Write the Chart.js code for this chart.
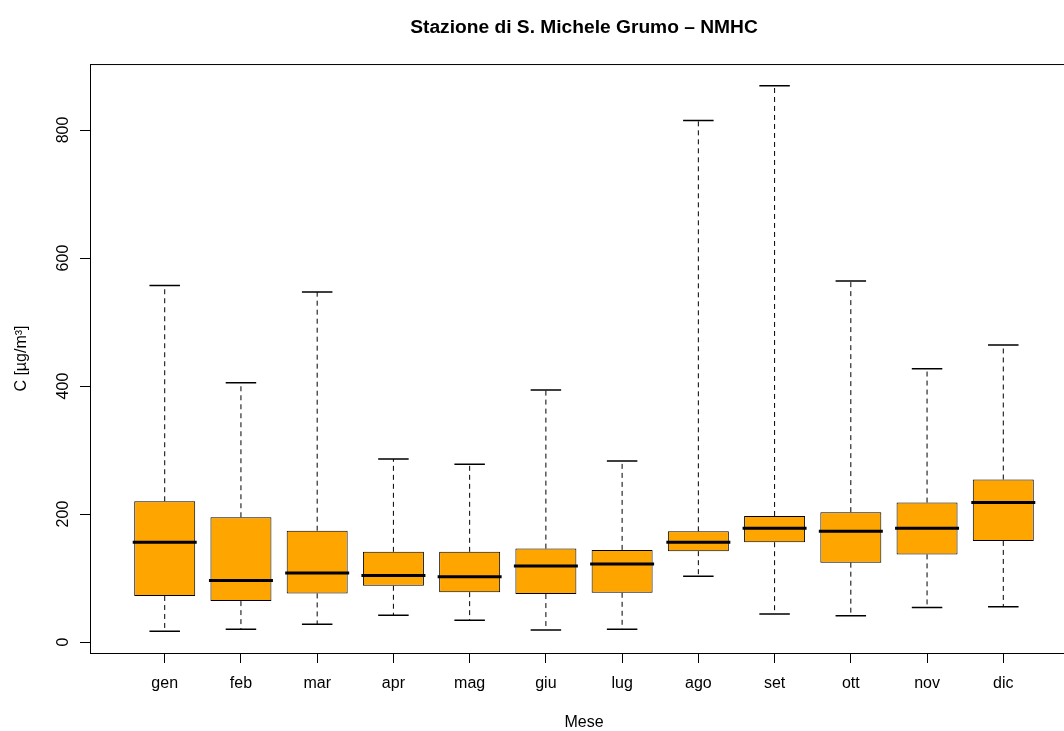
<!DOCTYPE html>
<html>
<head>
<meta charset="utf-8">
<title>Stazione di S. Michele Grumo – NMHC</title>
<script src="https://cdn.jsdelivr.net/npm/chart.js@4.4.0/dist/chart.umd.min.js"></script>
<style>
  html, body { margin: 0; padding: 0; background: #fff; overflow: hidden; }
  #wrap { width: 1064px; height: 731px; overflow: hidden; }
  canvas { display: block; }
</style>
</head>
<body>
<div id="wrap"><canvas id="chart" width="1168" height="731"></canvas></div>
<script>
// --- Data ---
const months = ['gen', 'feb', 'mar', 'apr', 'mag', 'giu', 'lug', 'ago', 'set', 'ott', 'nov', 'dic'];
const whiskerLow  = [17, 20, 28, 42, 34, 19, 20, 103, 44, 41, 54, 55];
const q1          = [72, 64, 76, 88, 78, 75, 77, 142, 156, 124, 137, 158];
const median      = [156, 96, 108, 104, 102, 119, 122, 156, 178, 173, 178, 218];
const q3          = [220, 195, 174, 141, 141, 146, 144, 173, 197, 203, 218, 254];
const whiskerHigh = [557, 405, 547, 286, 278, 394, 283, 815, 869, 564, 427, 464];
const yTicks = [0, 200, 400, 600, 800];

// R-style axis limits (4% padding around the data / box positions)
const lo = Math.min(...whiskerLow), hi = Math.max(...whiskerHigh);
const yMin = lo - (hi - lo) * 0.04;
const yMax = hi + (hi - lo) * 0.04;
const xMin = 0.5 - months.length * 0.04;
const xMax = months.length + 0.5 + months.length * 0.04;

Chart.defaults.font.family = "'Liberation Sans', Arial, Helvetica, sans-serif";
Chart.defaults.color = '#000';

// whiskers, staples, medians and the frame, drawn through the chart's scales
const boxExtras = {
    id: 'boxExtras',
    beforeDatasetsDraw(chart) {
        const { ctx, scales: { x, y } } = chart;
        ctx.save();
        ctx.strokeStyle = '#000';
        months.forEach((m, i) => {
            const px = x.getPixelForValue(i + 1);
            ctx.setLineDash([5, 4]);
            ctx.lineWidth = 1;
            ctx.beginPath();
            ctx.moveTo(px, y.getPixelForValue(q3[i]));
            ctx.lineTo(px, y.getPixelForValue(whiskerHigh[i]));
            ctx.moveTo(px, y.getPixelForValue(q1[i]));
            ctx.lineTo(px, y.getPixelForValue(whiskerLow[i]));
            ctx.stroke();

            ctx.setLineDash([]);
            ctx.lineWidth = 1.5;
            const l = x.getPixelForValue(i + 1 - 0.2);
            const r = x.getPixelForValue(i + 1 + 0.2);
            ctx.beginPath();
            ctx.moveTo(l, y.getPixelForValue(whiskerHigh[i]));
            ctx.lineTo(r, y.getPixelForValue(whiskerHigh[i]));
            ctx.moveTo(l, y.getPixelForValue(whiskerLow[i]));
            ctx.lineTo(r, y.getPixelForValue(whiskerLow[i]));
            ctx.stroke();
        });
        ctx.restore();
    },
    afterDatasetsDraw(chart) {
        const { ctx, scales: { x, y } } = chart;
        ctx.save();
        ctx.strokeStyle = '#000';
        ctx.lineWidth = 3;
        ctx.lineCap = 'square';
        months.forEach((m, i) => {
            const py = y.getPixelForValue(median[i]);
            ctx.beginPath();
            ctx.moveTo(x.getPixelForValue(i + 1 - 0.4), py);
            ctx.lineTo(x.getPixelForValue(i + 1 + 0.4), py);
            ctx.stroke();
        });
        ctx.restore();
    },
    afterDraw(chart) {
        const { ctx, chartArea: a } = chart;
        ctx.save();
        ctx.strokeStyle = '#000';
        ctx.lineWidth = 1;
        ctx.strokeRect(a.left + 0.5, a.top + 0.5, a.right - a.left, a.bottom - a.top);
        ctx.restore();
    }
};

new Chart(document.getElementById('chart'), {
    type: 'bar',
    data: {
        datasets: [{
            label: 'NMHC',
            data: months.map((m, i) => ({ x: i + 1, y: [q1[i], q3[i]] })),
            backgroundColor: '#FFA500',
            borderColor: '#000',
            borderWidth: 1,
            borderSkipped: false,
            barPercentage: 0.8,
            categoryPercentage: 1
        }]
    },
    options: {
        responsive: false,
        animation: false,
        layout: { padding: 0 },
        plugins: {
            legend: { display: false },
            tooltip: { enabled: false },
            title: {
                display: true,
                text: 'Stazione di S. Michele Grumo – NMHC',
                font: { size: 19.2, weight: 'bold' },
                color: '#000',
                padding: { top: 16, bottom: 25 }
            }
        },
        scales: {
            x: {
                type: 'linear',
                min: xMin,
                max: xMax,
                offset: false,
                afterBuildTicks: (axis) => { axis.ticks = months.map((m, i) => ({ value: i + 1 })); },
                afterFit: (axis) => { axis.height = 78; },
                ticks: {
                    autoSkip: false,
                    maxRotation: 0,
                    padding: 11,
                    font: { size: 16 },
                    callback: (v, idx) => months[idx]
                },
                grid: { drawOnChartArea: false, drawTicks: true, tickLength: 10, color: '#000', offset: false },
                border: { display: false },
                title: { display: true, text: 'Mese', font: { size: 16, lineHeight: 1 }, padding: { top: 0, bottom: 0 } }
            },
            y: {
                type: 'linear',
                position: 'left',
                min: yMin,
                max: yMax,
                afterBuildTicks: (axis) => { axis.ticks = yTicks.map(v => ({ value: v })); },
                afterFit: (axis) => { axis.width = 90; },
                ticks: {
                    minRotation: 90,
                    maxRotation: 90,
                    crossAlign: 'center',
                    padding: 3,
                    font: { size: 16 }
                },
                grid: { drawOnChartArea: false, drawTicks: true, tickLength: 10, color: '#000' },
                border: { display: false },
                title: { display: true, text: 'C [µg/m³]', font: { size: 16, lineHeight: 1 }, padding: { top: 14, bottom: 0 } }
            },
            // empty right-hand margin so the title centres over the plot like R does
            yRight: {
                type: 'linear',
                position: 'right',
                afterFit: (axis) => { axis.width = 90; },
                ticks: { display: false },
                grid: { display: false },
                border: { display: false }
            }
        }
    },
    plugins: [boxExtras]
});
</script>
</body>
</html>
